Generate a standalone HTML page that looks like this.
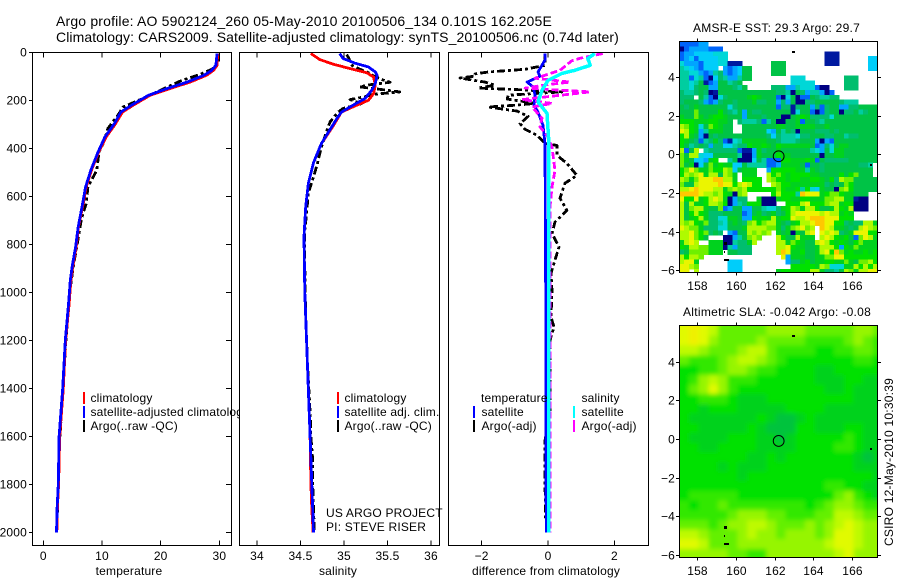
<!DOCTYPE html>
<html lang="en">
<head>
<meta charset="utf-8">
<title>Argo profile</title>
<style>
html,body{margin:0;padding:0;background:#fff;}
svg{display:block;}
text{font-family:"Liberation Sans",sans-serif;font-size:12px;fill:#000;letter-spacing:.18px;}
</style>
</head>
<body>
<svg id="chart" xmlns="http://www.w3.org/2000/svg" width="900" height="580" viewBox="0 0 900 580">
  <defs>
    <clipPath id="clip-sst"><rect x="679.3" y="41.7" width="198.4" height="231"/></clipPath>
    <clipPath id="clip-sla"><rect x="679.3" y="325.7" width="198.4" height="231.3"/></clipPath>
    <filter id="sla-soften" filterUnits="userSpaceOnUse" x="660" y="300" width="240" height="280"><feGaussianBlur stdDeviation="2.5"/></filter>
  </defs>
  <rect x="0" y="0" width="900" height="580" fill="#fff"/>
  <text x="56" y="26" style="font-size:14px" textLength="496" lengthAdjust="spacing">Argo profile: AO 5902124_260 05-May-2010 20100506_134 0.101S 162.205E</text>
  <text x="56" y="42" style="font-size:14px" textLength="563" lengthAdjust="spacing">Climatology: CARS2009. Satellite-adjusted climatology: synTS_20100506.nc (0.74d later)</text>
  <g id="temp-panel"></g>
  <g id="sal-panel"></g>
  <g id="diff-panel"></g>
  <g id="sst-map"></g>
  <g id="sla-map"></g>
  <text x="693" y="32" textLength="167" lengthAdjust="spacing">AMSR-E SST: 29.3 Argo: 29.7</text>
  <text x="683" y="316" textLength="188" lengthAdjust="spacing">Altimetric SLA: -0.042 Argo: -0.08</text>
  <text transform="translate(893,546) rotate(-90)" textLength="168" lengthAdjust="spacing">CSIRO 12-May-2010 10:30:39</text>
</svg>
<script>
// ---------- profile data ----------
const depthTicks = [0,200,400,600,800,1000,1200,1400,1600,1800,2000];
const tempTicks = [0,10,20,30];
const salTicks = [34,34.5,35,35.5,36];
const diffTicks = [-2,0,2];

const tempClimDepth = [5,54,75,96,124,151,179,221,249,298,353,417,492,561,644,727,811,894,950,1050,1200,1400,1600,1800,1900,2000];
const tempClim = [29.7,29.6,29,27.8,25,21.6,18.2,15.3,13.5,12.3,10.7,9.4,8.2,7.3,6.7,6,5.6,5,4.7,4.4,3.8,3.4,2.8,2.6,2.4,2.3];
const tempSat = [29.6,29.4,28.7,27.4,24.5,21.1,17.9,15,13.2,12.1,10.5,9.3,8.1,7.2,6.6,5.95,5.5,4.9,4.6,4.3,3.75,3.3,2.7,2.55,2.35,2.25];
const tempArgoDepth = [5,50,71,92,117,146,186,228,263,317,380,415,492,561,630,692,797,895,1000,1200,1400,1500,1650,1750,1800,1950];
const tempArgo = [29.9,29.8,28.7,26.7,23.6,21,17.6,13.6,12.7,11,10.2,9.5,9.1,7.6,7.3,6.5,5.8,5.1,4.5,3.85,3.35,3.1,2.72,2.6,2.55,2.35];

const salClimDepth = [5,30,50,68,85,103,137,172,200,223,249,304,380,460,547,644,769,1000,1400,1600,1800,1900,2000];
const salClim = [34.62,34.72,34.88,35.07,35.26,35.34,35.36,35.34,35.28,35.13,34.97,34.88,34.74,34.65,34.59,34.56,34.54,34.55,34.59,34.61,34.62,34.63,34.645];
const salSatDepth = [5,26,46,61,82,96,130,158,193,219,249,275,304,380,460,547,644,769,1000,1400,1600,1800,1900,2000];
const salSat = [34.95,34.99,35.13,35.28,35.36,35.38,35.36,35.32,35.24,35.11,34.97,34.92,34.87,34.74,34.65,34.59,34.56,34.54,34.55,34.59,34.61,34.63,34.64,34.65];
const salArgoDepth = [10,20,54,70,85,96,105,116,125,135,144,154,165,176,185,197,214,234,250,290,340,395,470,519,588,671,741,900,1100,1300,1500,1600,1700,1800,1900,2000];
const salArgo = [35.03,35.05,35.09,35.18,35.28,35.33,35.38,35.45,35.53,35.30,35.18,35.41,35.64,35.32,35.24,35.07,35.2,34.99,34.93,34.84,34.79,34.74,34.69,34.65,34.59,34.57,34.55,34.55,34.56,34.58,34.61,34.62,34.64,34.64,34.65,34.66];

const diffTempArgoDepth = [10,54,71,82,90,99,107,124,137,149,155,165,174,179,195,206,213,220,228,245,267,297,321,346,380,388,429,463,513,546,608,658,707,755,811,921,992,1103,1144,1200,1500,1617,1797,1950];
const diffTempArgo = [-.09,-.09,-.69,-1.8,-2.2,-2.2,-2.65,-1.9,-1.6,-2.1,-1,.42,-.69,-1.2,-1.23,-.7,-.4,-.93,-1.8,-.93,-.6,-.84,-.69,-.33,-.09,.27,.27,.57,.87,.51,.36,.57,.21,.12,.33,.09,.12,.09,.18,.06,.06,-.09,-.09,-.07];
const diffTempSatDepth = [5,30,82,100,124,144,179,221,249,304,380,1000,1500,2000];
const diffTempSat = [-.09,-.08,-.3,-.24,-.63,-.45,-.39,-.42,-.3,-.15,-.09,-.07,-.07,-.05];
const diffSalSatDepth = [5,26,54,75,88,117,158,207,254,367,800,2000];
const diffSalSat = [1.41,1.2,1.27,.81,.42,0,-.18,-.3,-.03,.02,.02,.02];
const diffSalArgoDepth = [5,25,35,75,96,108,124,135,149,165,180,197,213,228,275,311,346,395,492,561,644,800,1500,2000];
const diffSalArgo = [1.65,.96,.72,.36,-.09,-.39,.66,-.03,-.69,1.27,.3,-.78,.12,-.48,-.18,-.24,-.03,.12,.21,.12,.06,.06,.06,.06];

// ---------- SST map levels (0.25 degree cells, _ = no data) ----------
const _ = null;
const sstLevels = [
[2,2,2,2,3,3,_,_,_,_,_,_,_,_,_,_,_,_,_,_,_,_,_,_,_,_,_,_,_,_,_,_,_,_,_,_,_,_,_,_,_],
[0,2,3,3,3,3,2,2,2,_,_,_,_,_,_,_,_,_,_,_,_,_,_,_,_,_,_,_,_,_,_,_,_,_,_,_,_,_,_,_,_],
[2,3,3,4,4,4,4,5,5,5,_,_,_,_,_,_,_,_,_,_,_,_,_,_,_,_,_,_,_,_,1,1,1,_,_,_,_,_,_,_,_],
[2,3,4,2,4,4,4,4,5,5,_,_,_,_,_,_,_,_,_,_,_,_,_,_,_,_,_,_,_,_,1,1,1,_,_,_,_,_,_,4,4],
[5,3,3,3,2,4,4,4,5,5,1,1,1,_,_,_,_,_,_,8,8,8,_,_,_,_,_,_,_,_,1,1,1,_,_,_,_,_,_,4,4],
[6,5,4,3,2,4,4,4,_,3,2,3,4,8,8,_,_,_,_,8,8,8,_,_,_,_,_,_,_,_,_,_,_,_,_,_,_,_,_,4,4],
[6,6,5,5,3,2,3,6,7,3,2,3,4,8,8,_,_,_,_,8,8,8,_,_,_,_,_,_,_,_,_,_,_,_,_,_,_,_,_,_,_],
[6,6,2,5,6,2,0,4,7,6,3,3,6,8,8,_,_,_,_,_,_,_,_,5,5,5,_,_,_,_,_,_,_,_,7,7,7,_,_,_,_],
[6,6,5,6,8,1,2,3,8,8,6,7,8,_,_,_,_,_,_,_,_,_,_,5,5,5,5,5,_,_,_,_,_,_,7,7,7,_,_,_,_],
[6,6,5,7,8,8,3,3,8,8,8,7,6,8,_,_,_,_,_,7,7,7,3,3,6,5,5,5,2,0,0,_,_,_,7,7,7,_,_,_,_],
[7,6,6,7,8,7,0,1,8,8,8,8,8,8,8,8,8,8,8,8,7,7,6,0,8,7,3,6,6,3,0,2,_,_,_,_,_,_,_,_,_],
[7,7,7,_,8,6,2,0,5,7,8,8,8,8,9,10,9,8,8,8,2,0,5,8,0,2,2,8,7,6,6,7,7,_,_,_,_,_,_,_,_],
[7,8,8,8,7,3,2,3,7,8,8,7,8,8,8,9,7,7,8,8,3,7,3,8,0,0,7,7,8,8,8,8,8,7,6,6,6,_,_,_,_],
[8,7,8,9,8,8,8,8,8,8,5,7,8,8,8,8,8,8,8,8,2,7,7,1,7,8,8,3,7,2,7,8,8,3,3,7,7,8,8,8,8],
[8,8,8,11,8,8,8,8,10,8,7,6,8,3,8,7,7,8,8,8,8,8,8,1,5,8,8,2,0,2,7,8,8,0,7,7,8,6,7,8,8],
[9,8,8,11,9,8,9,10,10,9,8,8,8,3,8,8,8,7,8,8,8,0,0,8,9,10,9,7,7,7,7,5,8,8,8,8,8,8,8,8,8],
[10,10,10,9,9,9,10,10,9,9,8,_,7,6,6,6,7,2,6,8,0,0,8,8,9,2,8,8,7,6,8,8,8,8,8,8,8,8,8,8,8],
[12,11,10,9,5,8,11,10,9,8,8,_,_,8,8,8,8,8,8,8,9,9,8,8,9,9,9,9,8,8,9,8,8,8,8,8,8,8,8,8,8],
[13,12,10,9,3,6,9,9,9,8,8,_,_,8,8,8,8,8,4,3,8,6,8,7,0,8,8,8,7,7,7,8,7,8,8,8,8,8,8,8,8],
[10,12,9,8,3,0,8,7,8,8,8,8,8,8,8,8,8,8,7,4,7,6,6,6,5,7,7,8,8,8,7,7,8,8,6,7,7,8,8,8,8],
[10,9,8,7,2,6,7,9,7,2,1,5,6,9,9,9,9,9,8,8,7,6,6,6,7,8,8,8,3,0,3,2,8,8,8,8,8,8,8,8,8],
[10,8,6,7,8,7,3,7,7,4,4,6,7,7,10,9,9,10,9,8,10,9,9,9,9,9,9,8,2,3,7,5,8,9,9,8,8,8,8,8,8],
[12,2,8,12,_,6,7,7,7,7,7,7,2,1,1,3,9,7,8,8,9,8,8,8,8,8,8,6,5,3,8,5,9,9,8,8,8,8,8,8,8],
[11,8,12,12,5,4,4,8,8,8,8,8,6,0,0,3,9,8,8,8,10,9,9,8,8,8,8,8,8,0,8,8,9,9,8,8,8,8,8,8,8],
[11,9,8,4,4,3,9,10,_,_,6,8,0,0,0,4,8,6,2,2,2,10,10,9,9,9,10,9,2,8,7,7,7,7,7,8,8,8,8,8,8],
[11,8,9,0,4,8,11,9,10,9,9,4,4,8,6,6,6,6,2,2,3,9,9,9,9,8,2,8,8,7,8,8,8,8,8,8,8,7,7,6,_],
[10,11,13,11,9,9,11,10,10,12,11,4,8,9,9,9,_,_,3,10,10,10,10,10,9,9,6,9,8,7,8,8,8,8,8,8,8,8,8,8,_],
[10,12,11,12,13,9,12,12,8,12,11,9,_,9,9,9,_,_,12,10,11,10,9,10,10,10,10,9,9,8,8,8,8,10,8,10,11,8,8,8,_],
[12,11,9,11,13,13,13,14,14,12,12,9,_,10,10,10,10,_,12,11,10,10,9,10,10,9,9,10,10,9,8,10,7,12,11,11,8,8,8,8,8],
[11,8,8,12,13,13,13,13,14,13,13,10,12,13,12,10,10,_,_,12,11,10,10,9,9,9,9,9,9,9,7,8,7,8,11,10,8,8,8,8,8],
[12,12,13,14,13,13,13,12,12,9,11,12,11,12,10,10,10,10,10,10,11,10,9,9,10,6,10,5,4,9,8,8,0,11,12,10,8,8,8,8,8],
[14,14,14,14,13,12,12,11,12,10,9,0,11,12,_,_,_,_,_,10,12,10,10,10,6,14,13,13,13,9,10,11,11,10,9,9,8,8,8,_,_],
[13,10,10,13,9,10,12,13,12,9,0,3,7,7,_,_,9,0,0,0,9,10,10,9,9,10,10,9,9,9,11,11,12,12,9,9,1,0,0,_,_],
[12,8,12,9,9,10,12,12,11,10,0,3,6,7,10,10,10,0,0,0,_,_,10,10,10,12,13,10,10,10,11,12,12,9,10,10,0,0,0,_,_],
[12,8,11,12,12,9,8,8,11,2,3,8,8,3,3,8,8,6,5,5,7,9,10,12,11,9,12,12,10,8,8,9,12,10,9,12,0,0,0,_,_],
[12,8,10,12,10,9,7,7,7,8,8,8,8,2,3,8,9,7,8,9,7,8,10,12,13,13,13,13,13,12,13,12,12,9,10,9,_,_,_,_,_],
[12,8,9,10,12,9,7,7,5,5,9,9,8,3,3,10,9,10,9,12,9,10,10,13,12,12,13,14,14,14,13,13,13,10,10,10,_,_,_,_,_],
[12,11,12,10,9,11,7,7,6,5,8,9,8,7,11,12,10,11,12,12,9,8,7,9,10,12,12,13,14,14,13,13,10,10,7,8,7,7,12,12,9],
[13,12,11,11,9,7,7,7,5,5,8,8,8,9,12,12,12,12,11,11,9,7,9,11,12,13,11,12,_,14,13,12,9,9,8,7,8,12,13,12,11],
[12,12,13,11,10,11,7,8,7,_,3,2,8,8,12,11,12,11,12,_,9,8,9,0,9,8,12,13,_,13,12,13,12,7,8,9,13,13,13,10,10],
[12,12,13,11,10,8,_,_,_,0,0,3,6,8,11,12,11,_,_,_,12,10,8,8,12,9,9,9,_,12,13,12,10,9,10,8,2,11,13,12,9],
[9,12,13,12,_,_,9,9,9,0,0,6,7,7,9,12,_,_,_,_,12,12,9,11,10,9,8,8,12,13,12,10,9,10,9,8,10,11,9,9,9],
[10,9,12,12,11,11,9,9,9,0,6,3,7,7,7,_,_,_,_,_,12,12,13,10,9,9,8,8,9,12,12,12,10,3,10,9,11,9,9,9,9],
[7,8,11,11,11,11,9,9,9,_,8,8,7,7,7,_,_,_,_,_,12,14,13,9,9,10,8,8,9,12,13,10,14,11,9,10,9,9,10,9,10],
[12,10,12,12,11,_,_,_,_,_,_,_,_,_,_,_,_,_,_,_,_,13,3,9,9,9,8,8,9,9,11,11,13,13,10,10,10,10,10,10,10],
[12,13,13,9,_,_,_,_,_,_,4,4,4,_,_,_,_,_,_,_,_,_,3,7,7,9,10,8,9,9,10,10,9,9,11,9,8,11,11,12,10],
[13,13,12,11,_,_,_,_,_,_,4,4,4,_,_,_,_,_,_,_,_,_,_,10,10,10,10,10,9,12,11,5,5,5,9,9,12,10,12,10,12],
[13,13,_,12,_,_,_,_,_,_,4,4,4,_,_,_,_,_,_,_,9,10,10,10,10,10,10,12,12,9,7,7,6,8,12,11,9,12,12,13,13]
];
const sstPalette = ['#000082','#0019a0','#0064fa','#00a5ff','#00cdfa','#00d7d7','#00cda0','#00be6e','#00c346','#00d21e','#00e100','#6ef000','#affa00','#ebf500','#ffc800'];

// ---------- SLA map levels (0.5 degree cells) ----------
const slaLevels = [
[7,8,7,6,4,4,4,4,4,5,5,5,5,4,4,4,4,4,5,5,4],
[7,8,7,5,4,4,4,4,5,4,4,4,4,3,3,3,3,4,5,4,3],
[6,6,5,4,4,4,5,6,6,4,3,3,3,3,2,2,3,3,4,4,3],
[4,3,3,3,4,5,6,6,5,4,3,2,2,2,2,2,2,2,3,3,2],
[2,2,3,3,4,5,5,4,3,3,2,2,2,2,1,1,2,2,2,2,2],
[2,3,5,6,5,3,3,3,2,2,2,2,2,2,1,1,1,2,2,1,1],
[2,4,5,7,5,3,2,2,2,2,2,2,2,2,2,1,1,2,1,1,1],
[2,2,3,3,3,2,1,1,1,2,2,2,2,2,2,2,2,2,1,1,1],
[2,2,1,2,2,2,1,1,1,1,1,2,2,2,2,1,1,1,1,1,1],
[2,1,1,1,1,1,1,1,2,1,0,0,1,2,1,1,1,1,1,1,1],
[2,2,1,1,1,1,1,2,1,0,0,0,2,2,1,1,1,2,2,1,1],
[2,1,1,1,1,2,2,2,1,1,0,1,2,2,2,2,2,3,2,1,1],
[2,2,1,1,2,2,2,2,1,1,1,1,2,2,2,2,3,3,2,1,1],
[2,2,2,2,2,2,2,1,1,2,1,2,2,2,2,2,2,2,1,0,1],
[2,2,2,2,1,2,1,1,1,2,2,2,2,2,2,2,2,2,1,1,1],
[2,2,2,2,2,2,1,2,2,2,2,2,2,2,2,2,2,2,2,2,1],
[2,2,2,2,2,2,2,2,2,2,2,2,2,2,2,3,3,2,2,1,1],
[2,3,3,3,3,3,2,2,2,2,2,2,2,2,2,2,4,5,3,2,1],
[3,2,3,3,4,3,3,3,3,3,3,3,3,2,3,4,5,5,4,3,3],
[3,3,3,3,3,4,5,5,5,4,4,3,3,3,4,4,6,6,5,4,4],
[4,4,4,3,4,5,5,6,6,5,4,4,4,5,4,5,6,7,6,5,5],
[6,6,5,4,4,4,5,6,5,5,4,5,5,5,4,5,7,7,6,5,5],
[7,7,6,4,4,4,5,5,5,5,5,5,5,5,5,6,7,7,6,5,5],
[5,5,5,5,5,4,4,3,3,5,5,5,5,5,5,5,6,7,5,5,5]
];
const slaPalette = ['#00c33c','#00d21e','#00e100','#32e800','#64f000','#96f500','#befa00','#e1fa00','#f0f000'];

const lonTicks = [158,160,162,164,166];
const latTicks = [4,2,0,-2,-4,-6];
const floatLon = 162.205;
const floatLat = -0.101;

// ---------- axis functions ----------
const yDepth = d => 52.3 + d * 0.24;
const xTemp = v => 43.3 + v * 5.87;
const xSal = v => 257 + (v - 34) * 87;
const xDiff = v => 548 + v * 33.2;
const xLon = lon => 679.3 + (lon - 157.07) * 19.35;
const ySstLat = lat => 154.3 - lat * 19.35;
const ySlaLat = lat => 439 - lat * 19.35;

const NS = 'http://www.w3.org/2000/svg';
function mk(tag, parent, attrs) {
  const el = document.createElementNS(NS, tag);
  for (const k in attrs) el.setAttribute(k, attrs[k]);
  parent.appendChild(el);
  return el;
}
function fmtNeg(v) { return String(v).replace('-', '\u2212'); }

function drawFrame(g, x0, x1, y0, y1) {
  const el = mk('rect', g, {x: x0, y: y0, width: x1 - x0, height: y1 - y0, fill: 'none', stroke: '#000', 'stroke-width': 1, 'shape-rendering': 'crispEdges'});
  
  
}
function drawPanelBg(g, x0, x1, y0, y1) {
  const el = mk('rect', g, {x: x0, y: y0, width: x1 - x0, height: y1 - y0, fill: '#fff'});
  
  
}
function drawXTicks(g, ticks, xf, y0, y1) {
  ticks.forEach(t => {
    const px = xf(t);
    const a = mk('line', g, {x1: px, x2: px, y1: y0, y2: y0 + 5, stroke: '#000', 'shape-rendering': 'crispEdges'});
    
    
    const b = mk('line', g, {x1: px, x2: px, y1: y1 - 5, y2: y1, stroke: '#000', 'shape-rendering': 'crispEdges'});
    
    
    const l = mk('text', g, {x: px, y: 560, 'text-anchor': 'middle'});
    
    
    l.textContent = fmtNeg(t);
  });
}
function drawLine(g, depths, values, xf, color, width, dash, name) {
  const pts = values.map((v, i) => xf(v).toFixed(1) + ',' + yDepth(depths[i]).toFixed(1)).join(' ');
  const el = mk('polyline', g, {points: pts, fill: 'none', stroke: color, 'stroke-width': width, 'stroke-linejoin': 'round', 'shape-rendering': 'crispEdges'});
  if (dash) el.setAttribute('stroke-dasharray', dash);
  
  
}
function legendBar(g, x, y, color) {
  const el = mk('rect', g, {x: x, y: y, width: 2, height: 12, fill: color});
  
  
}
function label(g, x, y, str, name, anchor) {
  const el = mk('text', g, {x: x, y: y, 'text-anchor': anchor || 'start'});
  
  
  el.textContent = str;
}

// ---------- temperature panel ----------
const gT = document.getElementById('temp-panel');
drawLine(gT, tempArgoDepth, tempArgo, xTemp, '#000', 2.8, '8 3 3 3', 'temperature-argo-line');
drawLine(gT, tempClimDepth, tempClim, xTemp, '#ff0000', 2.8, null, 'temperature-climatology-line');
drawLine(gT, tempClimDepth, tempSat, xTemp, '#0000ff', 2.8, null, 'temperature-satellite-line');
drawFrame(gT, 32.5, 231.5, 52.5, 545.5);
drawXTicks(gT, tempTicks, xTemp, 52.5, 545.5);
depthTicks.forEach(d => {
  const py = Math.round(yDepth(d)) + 0.5;
  const r = mk('line', gT, {x1: 226, x2: 231, y1: py, y2: py, stroke: '#000', 'shape-rendering': 'crispEdges'});
  
  
  const t = mk('line', gT, {x1: 29, x2: 32, y1: py, y2: py, stroke: '#000', 'shape-rendering': 'crispEdges'});
  
  
  label(gT, 27, py + 4, String(d), 'depth-tick-label', 'end');
});
label(gT, 129, 575, 'temperature', 'temperature-axis-title', 'middle');
legendBar(gT, 83, 392, '#ff0000');
legendBar(gT, 83, 406, '#0000ff');
legendBar(gT, 83, 420, '#000');
label(gT, 90.5, 402, 'climatology', 'legend-climatology');
label(gT, 90.5, 416, 'satellite-adjusted climatology', 'legend-satellite-adjusted');
label(gT, 90.5, 430, 'Argo(..raw -QC)', 'legend-argo');

// ---------- salinity panel ----------
const gS = document.getElementById('sal-panel');
drawPanelBg(gS, 239.5, 439.5, 52.5, 545.5);
drawLine(gS, salArgoDepth, salArgo, xSal, '#000', 2.8, '8 3 3 3', 'salinity-argo-line');
drawLine(gS, salClimDepth, salClim, xSal, '#ff0000', 2.8, null, 'salinity-climatology-line');
drawLine(gS, salSatDepth, salSat, xSal, '#0000ff', 2.8, null, 'salinity-satellite-line');
drawFrame(gS, 239.5, 439.5, 52.5, 545.5);
drawXTicks(gS, salTicks, xSal, 52.5, 545.5);
label(gS, 338, 575, 'salinity', 'salinity-axis-title', 'middle');
legendBar(gS, 337, 392, '#ff0000');
legendBar(gS, 337, 406, '#0000ff');
legendBar(gS, 337, 420, '#000');
label(gS, 344.5, 402, 'climatology', 'legend-climatology');
label(gS, 344.5, 416, 'satellite adj. clim.', 'legend-satellite-adjusted');
label(gS, 344.5, 430, 'Argo(..raw -QC)', 'legend-argo');
label(gS, 326, 517, 'US ARGO PROJECT', 'project-label');
label(gS, 326, 531, 'PI: STEVE RISER', 'pi-label');

// ---------- difference panel ----------
const gD = document.getElementById('diff-panel');
drawPanelBg(gD, 448.5, 648.5, 52.5, 545.5);
drawLine(gD, diffTempArgoDepth, diffTempArgo, xDiff, '#000', 2.8, '8 3 3 3', 'difference-temperature-argo-line');
drawLine(gD, diffTempSatDepth, diffTempSat, xDiff, '#0000ff', 2.8, null, 'difference-temperature-satellite-line');
drawLine(gD, diffSalArgoDepth, diffSalArgo, xDiff, '#ff00ff', 2.8, '7 3', 'difference-salinity-argo-line');
drawLine(gD, diffSalSatDepth, diffSalSat, xDiff, '#00ffff', 3.5, null, 'difference-salinity-satellite-line');
drawFrame(gD, 448.5, 648.5, 52.5, 545.5);
drawXTicks(gD, diffTicks, xDiff, 52.5, 545.5);
label(gD, 546, 575, 'difference from climatology', 'difference-axis-title', 'middle');
legendBar(gD, 473, 406, '#0000ff');
legendBar(gD, 473, 420, '#000');
legendBar(gD, 573, 406, '#00ffff');
legendBar(gD, 573, 420, '#ff00ff');
label(gD, 481, 402, 'temperature', 'legend-temperature-heading');
label(gD, 481.5, 416, 'satellite', 'legend-temperature-satellite');
label(gD, 481.5, 430, 'Argo(-adj)', 'legend-temperature-argo');
label(gD, 581.5, 402, 'salinity', 'legend-salinity-heading');
label(gD, 581.5, 416, 'satellite', 'legend-salinity-satellite');
label(gD, 581.5, 430, 'Argo(-adj)', 'legend-salinity-argo');

// ---------- maps ----------
function drawMapAxes(g, yLat, top, bottom, labelY) {
  lonTicks.forEach(t => {
    const px = Math.round(xLon(t)) + 0.5;
    const a = mk('line', g, {x1: px, x2: px, y1: top - 3, y2: top, stroke: '#000', 'shape-rendering': 'crispEdges'});
    
    
    const b = mk('line', g, {x1: px, x2: px, y1: bottom, y2: bottom + 3, stroke: '#000', 'shape-rendering': 'crispEdges'});
    
    
    label(g, px, labelY, String(t), 'longitude-tick-label', 'middle');
  });
  latTicks.forEach(t => {
    const py = Math.round(yLat(t)) + 0.5;
    const a = mk('line', g, {x1: 676, x2: 679, y1: py, y2: py, stroke: '#000', 'shape-rendering': 'crispEdges'});
    
    
    const b = mk('line', g, {x1: 878, x2: 881, y1: py, y2: py, stroke: '#000', 'shape-rendering': 'crispEdges'});
    
    
    label(g, 675, py + 4, fmtNeg(t), 'latitude-tick-label', 'end');
  });
  drawFrame(g, 679.5, 877.5, top, bottom);
  const c = mk('circle', g, {cx: xLon(floatLon), cy: yLat(floatLat), r: 5.4, fill: 'none', stroke: '#000', 'stroke-width': 1});
  
  
}
function drawIsland(g, x, y, w, h) {
  const el = mk('rect', g, {x: x, y: y, width: w, height: h, fill: '#000'});
  
  
}

const gSst = document.getElementById('sst-map');
const sstCells = mk('g', gSst, {'clip-path': 'url(#clip-sst)', 'shape-rendering': 'crispEdges'});


const sstLat0 = 5.82;
sstLevels.forEach((row, r) => {
  row.forEach((v, c) => {
    if (v === null) return;
    const lon = 157.07 + c * 0.25;
    const lat = sstLat0 - r * 0.25;
    const el = mk('rect', sstCells, {x: xLon(lon).toFixed(2), y: ySstLat(lat).toFixed(2), width: 5.2, height: 5.2, fill: sstPalette[v]});
    
    
  });
});
drawMapAxes(gSst, ySstLat, 41.5, 272.5, 290);
drawIsland(gSst, 792, 51, 3, 2);
drawIsland(gSst, 870, 164, 2, 2);
drawIsland(gSst, 724, 242, 3, 3);
drawIsland(gSst, 724, 251, 1, 2);
drawIsland(gSst, 724, 259, 5, 2);

const gSla = document.getElementById('sla-map');
const slaClip = mk('g', gSla, {'clip-path': 'url(#clip-sla)'});


const slaCells = mk('g', slaClip, {filter: 'url(#sla-soften)', 'shape-rendering': 'crispEdges'});


const slaLat0 = 5.82;
slaLevels.forEach((row, r) => {
  row.forEach((v, c) => {
    const lon = 157.07 + c * 0.5;
    const lat = slaLat0 - r * 0.5;
    const el = mk('rect', slaCells, {x: xLon(lon).toFixed(2), y: ySlaLat(lat).toFixed(2), width: 10, height: 10, fill: slaPalette[v]});
    
    
    // widen the outermost cells so the softening does not fade at the map edge
    if (r === 0) { el.setAttribute('y', ySlaLat(lat) - 10); el.setAttribute('height', 20); }
    if (r === slaLevels.length - 1) { el.setAttribute('height', 20); }
    if (c === 0) { el.setAttribute('x', xLon(lon) - 10); el.setAttribute('width', 20); }
    if (c === row.length - 1) { el.setAttribute('width', 20); }
  });
});
drawMapAxes(gSla, ySlaLat, 325.5, 557.5, 575);
drawIsland(gSla, 792, 335, 3, 2);
drawIsland(gSla, 870, 448, 2, 2);
drawIsland(gSla, 724, 526, 3, 3);
drawIsland(gSla, 724, 535, 1, 2);
drawIsland(gSla, 724, 543, 5, 2);
</script>
</body>
</html>
